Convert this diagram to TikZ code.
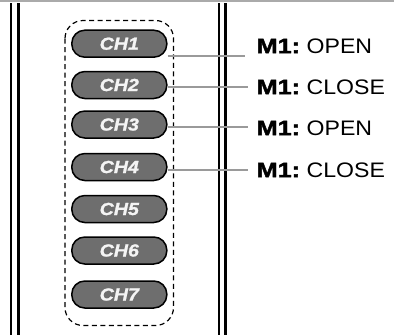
\documentclass[tikz,border=0pt]{standalone}
\usepackage{fontspec}
\setmainfont{Liberation Sans}
\newfontfamily\chfont[FakeStretch=1.12,BoldItalicFeatures={FakeBold=1.2}]{Liberation Sans}
\newfontfamily\labfont[FakeStretch=1.1]{Liberation Sans}
\newfontfamily\mfont[FakeStretch=1.2,BoldFeatures={FakeBold=2}]{Liberation Sans}
\definecolor{pillgray}{HTML}{6E6E6E}
\definecolor{linkgray}{HTML}{9A9A9A}
\definecolor{topgray}{HTML}{AAAAAA}
\definecolor{pilltext}{HTML}{F4F4F4}
\tikzset{
  pill/.style={draw=black, line width=1.5pt, fill=pillgray, rounded corners=13pt,
    minimum width=95pt, minimum height=27pt, inner sep=0pt,
    text=pilltext, font=\chfont\fontsize{17.5}{17.5}\selectfont\bfseries\itshape},
  lab/.style={anchor=west, inner sep=0pt, font=\fontsize{21}{21}\selectfont},
  link/.style={draw=linkgray, line width=1.4pt},
  rail/.style={draw=black, line width=2.2pt},
  group/.style={draw=black, line width=1.2pt, dash pattern=on 5pt off 3.5pt, rounded corners=18pt}
}
\newcommand{\chtxt}[1]{\raisebox{-2.5pt}{#1}}
\newcommand{\mlab}[1]{{\mfont\bfseries M1:}\hspace{6.6pt}{\labfont #1}}
\begin{document}
\begin{tikzpicture}[x=1pt,y=-1pt]
\useasboundingbox (0,0) rectangle (394,335);
\fill[topgray] (0,0) rectangle (394,2);
% rails
\coordinate (r1t) at (11,3); \coordinate (r1b) at (11,335);
\coordinate (r2t) at (18.5,3); \coordinate (r2b) at (18.5,335);
\coordinate (r3t) at (219,3); \coordinate (r3b) at (219,335);
\coordinate (r4t) at (225.5,3); \coordinate (r4b) at (225.5,335);
\draw[rail] (r1t) -- (r1b);
\draw[rail] (r2t) -- (r2b);
\draw[rail] (r3t) -- (r3b);
\draw[rail] (r4t) -- (r4b);
% group
\draw[group] (65,20.5) rectangle (173.5,325.5);
% pills
\node[pill] (ch1) at (119.3,43.7) {\chtxt{CH1}};
\node[pill] (ch2) at (119.3,85) {\chtxt{CH2}};
\node[pill] (ch3) at (119.3,124.5) {\chtxt{CH3}};
\node[pill] (ch4) at (119.3,167) {\chtxt{CH4}};
\node[pill] (ch5) at (119.3,209) {\chtxt{CH5}};
\node[pill] (ch6) at (119.3,250.5) {\chtxt{CH6}};
\node[pill] (ch7) at (119.3,294.5) {\chtxt{CH7}};
% labels
\node[lab] (l1) at (256.5,46) {\mlab{OPEN}};
\node[lab] (l2) at (256.5,87) {\mlab{CLOSE}};
\node[lab] (l3) at (256.5,128) {\mlab{OPEN}};
\node[lab] (l4) at (256.5,170) {\mlab{CLOSE}};
% connectors
\coordinate (e1) at (245,56);
\coordinate (e2) at (248,87);
\coordinate (e3) at (248,127);
\coordinate (e4) at (248,170);
\draw[link] (ch1.east |- e1) -- (e1);
\draw[link] (ch2.east |- e2) -- (e2);
\draw[link] (ch3.east |- e3) -- (e3);
\draw[link] (ch4.east |- e4) -- (e4);
\end{tikzpicture}
\end{document}
